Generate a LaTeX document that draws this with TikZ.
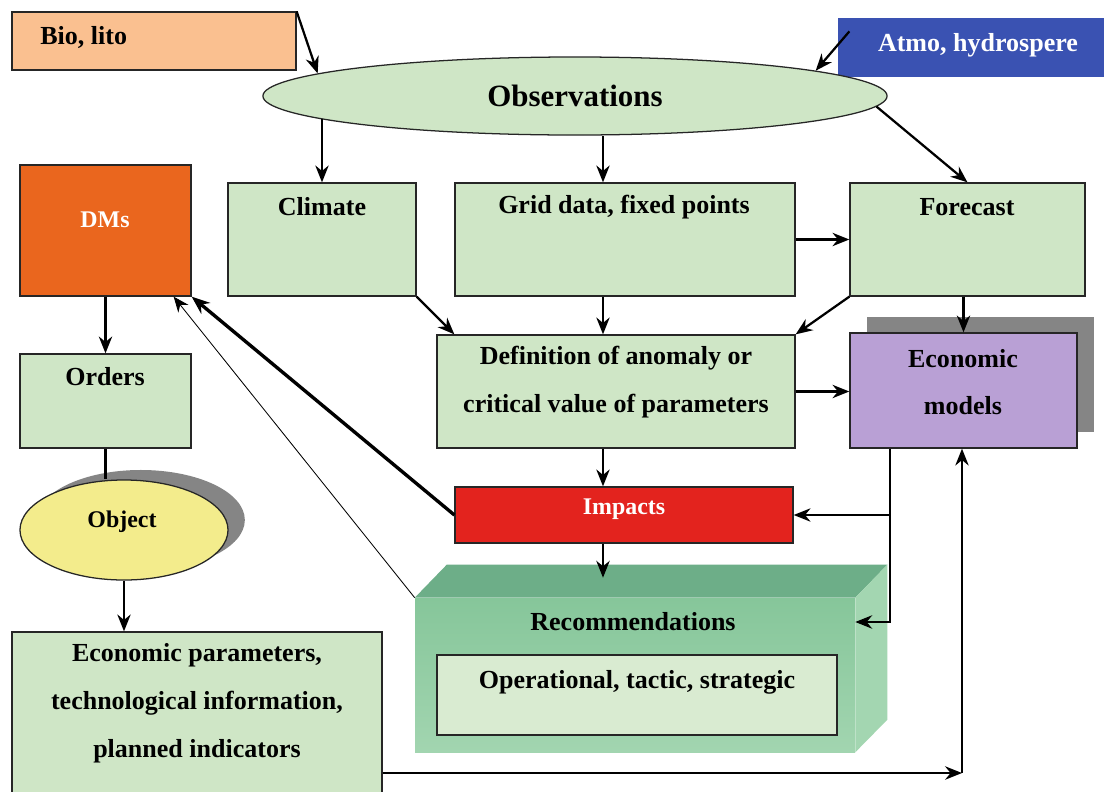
\documentclass[tikz,border=0pt]{standalone}
\usepackage{fontspec}
\setmainfont{Liberation Serif}
\usetikzlibrary{arrows.meta,shapes.geometric,fit,calc,shadows}

\definecolor{bioorange}{HTML}{FAC090}
\definecolor{atmoblue}{HTML}{3A52B2}
\definecolor{boxgreen}{HTML}{CFE6C6}
\definecolor{dmorange}{HTML}{EA661E}
\definecolor{impred}{HTML}{E3231E}
\definecolor{modpurple}{HTML}{B9A0D5}
\definecolor{objyellow}{HTML}{F3EC8C}
\definecolor{shadegray}{HTML}{858585}
\definecolor{recfront}{HTML}{86C69A}
\definecolor{recfrontlow}{HTML}{A2D5B0}
\definecolor{rectop}{HTML}{6DAE88}
\definecolor{recside}{HTML}{A3D6B1}

\tikzset{
  box/.style={draw=black!85, line width=0.9pt, fill=boxgreen, inner sep=0pt},
  lab/.style={font=\fontsize{18.5}{34}\selectfont\bfseries, align=center, inner sep=0pt},
  arr/.style={line width=1.6pt, -{Stealth[length=12pt,width=9.5pt]}},
  thickarr/.style={line width=2.4pt, -{Stealth[length=13pt,width=10pt]}},
  thinarr/.style={line width=0.6pt, -{Stealth[length=11pt,width=9pt]}},
}

\begin{document}
\begin{tikzpicture}[x=0.025cm, y=-0.025cm]
\useasboundingbox (0,0) rectangle (1106,791);
\clip (0,0) rectangle (1106,791);
\fill[white] (0,0) rectangle (1106,791);

% Sources of observations
\node[box, fill=bioorange, fit={(12,12)(296,70)}] (bio) {};
\node[lab, anchor=west] (bioT) at (40,37) {Bio, lito};
\node[box, draw=none, fill=atmoblue, fit={(838,18)(1104,77)}] (atmo) {};
\node[lab, text=white] (atmoT) at (978,45) {Atmo, hydrospere};

% Observations ellipse
\node[ellipse, draw=black!85, line width=0.9pt, fill=boxgreen, minimum width=15.6cm,
      minimum height=1.95cm, inner sep=0pt, font=\fontsize{22}{26}\selectfont\bfseries]
      (obs) at (575,96) {Observations};

% Data boxes
\node[box, fit={(228,183)(416,296)}] (clim) {};
\node[lab] (climT) at (322,207) {Climate};
\node[box, fit={(455,183)(795,296)}] (grid) {};
\node[lab] (gridT) at (624,207) {Grid data, fixed points};
\node[box, fit={(850,183)(1085,296)}] (fcst) {};
\node[lab] (fcstT) at (967,207) {Forecast};

% Decision makers and orders
\node[box, fill=dmorange, fit={(20,165)(191,296)}] (dms) {};
\node[lab, text=white, font=\fontsize{17}{20}\selectfont\bfseries] (dmsT) at (105,220) {DMs};
\node[box, fit={(20,354)(191,448)}] (orders) {};
\node[lab] (ordT) at (105,377) {Orders};

% Anomaly definition and economic models
\node[box, fit={(437,335)(795,448)}] (def) {};
\node[lab] (defT) at (616,382) {Definition of anomaly or\\critical value of parameters};
\node[box, fill=modpurple, fit={(850,333)(1077,448)},
      drop shadow={shadow xshift=0.42cm, shadow yshift=0.4cm, fill=shadegray, opacity=1}] (emod) {};
\node[lab] (emodT) at (963,382) {Economic\\models};

% Impacts
\node[box, fill=impred, fit={(455,487)(793,543)}] (imp) {};
\node[lab, text=white, font=\fontsize{17}{20}\selectfont\bfseries] (impT) at (624,509) {Impacts};

% Object and its parameters
\node[ellipse, draw=black!85, line width=0.9pt, fill=objyellow, minimum width=5.2cm,
      minimum height=2.5cm, inner sep=0pt,
      drop shadow={shadow xshift=0.42cm, shadow yshift=0.25cm, fill=shadegray, opacity=1}]
      (obj) at (124,530) {};
\node[lab, font=\fontsize{17}{20}\selectfont\bfseries] (objT) at (122,522) {Object};
\node[box, fit={(12,632)(382,800)}] (epar) {};
\node[lab] (eparT) at (197,703) {Economic parameters,\\technological information,\\planned indicators};

% Recommendations block
\node[fit={(415,598)(855,752)}, inner sep=0pt, top color=recfront, bottom color=recfrontlow] (rec) {};
\fill[rectop] (rec.north west) -- ++(32,-33) -- ($(rec.north east)+(32,-33)$) -- (rec.north east) -- cycle;
\fill[recside] (rec.north east) -- ++(32,-33) -- ++(0,155) -- (rec.south east) -- cycle;
\node[lab] (recT) at (633,622) {Recommendations};
\node[box, fill=boxgreen!80!white, fit={(437,655)(837,735)}] (ops) {};
\node[lab] (opsT) at (637,682) {Operational, tactic, strategic};

% Helper coordinates
\coordinate (spine) at (603,0);
\coordinate (drop) at (890,0);
\coordinate (rail) at (962,773);

% Arrows into and out of observations
\draw[arr] (bio.north east) -- (obs.175);
\draw[arr] ([xshift=0.3cm,yshift=-0.35cm]atmo.north west) -- (obs.6);
\draw[arr] (clim.north |- obs.185) -- (clim.north);
\draw[arr] (obs.south -| spine) -- (grid.north -| spine);
\draw[arr] (obs.-2) -- (fcst.north);
\draw[arr] (grid.east) -- (fcst.west);

% Arrows into definition and models
\draw[arr] (clim.south east) -- ([xshift=0.45cm]def.north west);
\draw[arr] (grid.south -| spine) -- (def.north -| spine);
\draw[arr] (fcst.south west) -- (def.north east);
\draw[arr] (emod.north |- fcst.south) -- (emod.north);
\draw[arr] (def.east) -- (def.east -| emod.west);

% Impacts and recommendations
\draw[arr] (def.south -| spine) -- (imp.north -| spine);
\draw[arr] (imp.south -| spine) -- ($(rec.north -| spine)+(0,-20)$);
\draw[arr] (emod.south -| drop) |- (rec.east |- recT);
\draw[arr] (drop |- imp.east) -- (imp.east);

% Feedback to decision makers
\draw[thickarr] (imp.west) -- (dms.south east);
\draw[thinarr] (rec.north west) -- ([xshift=-0.45cm]dms.south east);

% Left column
\draw[arr] (dms.south) -- (orders.north);
\draw[line width=1.6pt] (orders.south) -- (orders.south |- obj.north);
\draw[arr] (obj.south) -- (obj.south |- epar.north);
\draw[arr] (epar.east |- rail) -- (rail);
\draw[arr] (rail) -- (rail |- emod.south);
\end{tikzpicture}
\end{document}
